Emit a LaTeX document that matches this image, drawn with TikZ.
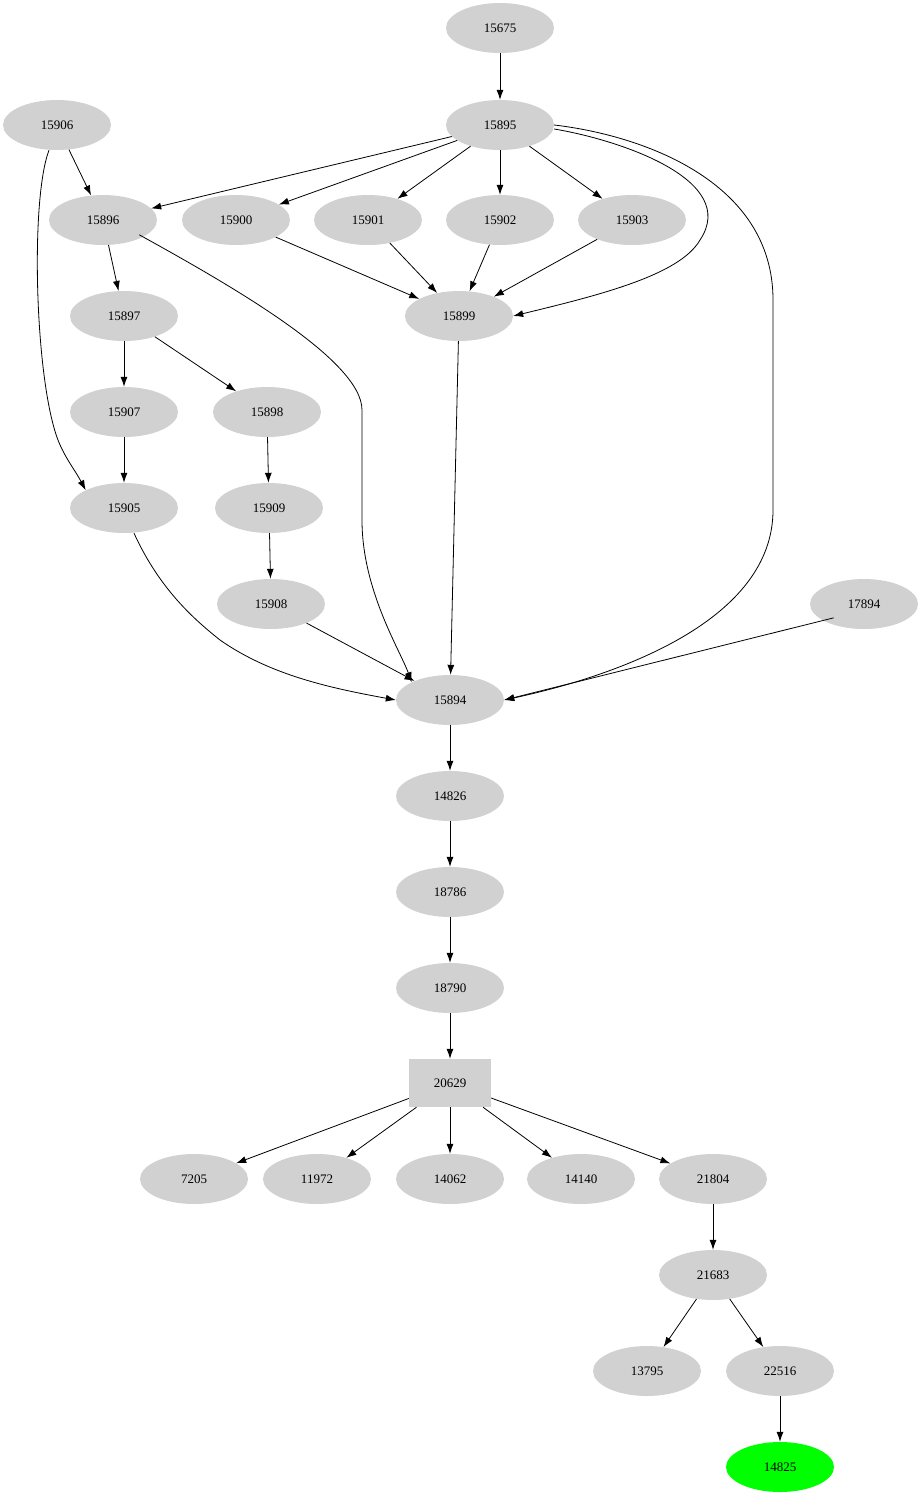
\documentclass[tikz,border=0pt]{standalone}
\usepackage{fontspec}
\setmainfont{Liberation Serif}
\usetikzlibrary{arrows.meta,shapes.geometric}
\begin{document}
\begin{tikzpicture}[x=1pt,y=-1pt,
  nd/.style={ellipse,fill=black!18,minimum width=108pt,minimum height=50pt,inner sep=0pt,font=\fontsize{13}{15}\selectfont},
  bx/.style={rectangle,fill=black!18,minimum width=82pt,minimum height=48pt,inner sep=0pt,font=\fontsize{13}{15}\selectfont},
  ar/.style={-{Latex[length=10pt,width=7pt]},line width=0.8pt}]
\useasboundingbox (0,0) rectangle (923,1499);
\node[nd] (n15675) at (500,28) {15675};
\node[nd] (n15895) at (500,125) {15895};
\node[nd] (n15906) at (57,125) {15906};
\node[nd] (n15896) at (103,220) {15896};
\node[nd] (n15900) at (236,220) {15900};
\node[nd] (n15901) at (368,220) {15901};
\node[nd] (n15902) at (500,220) {15902};
\node[nd] (n15903) at (632,220) {15903};
\node[nd] (n15899) at (459,316) {15899};
\node[nd] (n15897) at (124,316) {15897};
\node[nd] (n15907) at (124,412) {15907};
\node[nd] (n15898) at (267,412) {15898};
\node[nd] (n15905) at (124,508) {15905};
\node[nd] (n15909) at (269,508) {15909};
\node[nd] (n15908) at (271,604) {15908};
\node[nd] (n17894) at (864,604) {17894};
\node[nd] (n15894) at (450,700) {15894};
\node[nd] (n14826) at (450,796) {14826};
\node[nd] (n18786) at (450,892) {18786};
\node[nd] (n18790) at (450,988) {18790};
\node[bx] (n20629) at (450,1083) {20629};
\node[nd] (n7205) at (194,1179) {7205};
\node[nd] (n11972) at (317,1179) {11972};
\node[nd] (n14062) at (450,1179) {14062};
\node[nd] (n14140) at (581,1179) {14140};
\node[nd] (n21804) at (713,1179) {21804};
\node[nd] (n21683) at (713,1275) {21683};
\node[nd] (n13795) at (647,1371) {13795};
\node[nd] (n22516) at (780,1371) {22516};
\node[nd,fill={rgb,255:red,0;green,255;blue,0}] (n14825) at (780,1467) {14825};
\draw[ar] (n15675) -- (n15895);
\draw[ar] (n15895) -- (n15896);
\draw[ar] (n15895) -- (n15900);
\draw[ar] (n15895) -- (n15901);
\draw[ar] (n15895) -- (n15902);
\draw[ar] (n15895) -- (n15903);
\draw[ar] (n15906) -- (n15896);
\draw[ar] (n15900) -- (n15899);
\draw[ar] (n15901) -- (n15899);
\draw[ar] (n15902) -- (n15899);
\draw[ar] (n15903) -- (n15899);
\draw[ar] (n15896) -- (n15897);
\draw[ar] (n15897) -- (n15907);
\draw[ar] (n15897) -- (n15898);
\draw[ar] (n15907) -- (n15905);
\draw[ar] (n15898) -- (n15909);
\draw[ar] (n15909) -- (n15908);
\draw[ar] (n15908) -- (n15894);
\draw[ar] (n15899) -- (n15894);
\draw[ar] (n17894.south west) ++(8,-4) coordinate (c1) (c1) -- (n15894.east);
\draw[ar] (n15894) -- (n14826);
\draw[ar] (n14826) -- (n18786);
\draw[ar] (n18786) -- (n18790);
\draw[ar] (n18790) -- (n20629);
\draw[ar] (n20629) -- (n7205);
\draw[ar] (n20629) -- (n11972);
\draw[ar] (n20629) -- (n14062);
\draw[ar] (n20629) -- (n14140);
\draw[ar] (n20629) -- (n21804);
\draw[ar] (n21804) -- (n21683);
\draw[ar] (n21683) -- (n13795);
\draw[ar] (n21683) -- (n22516);
\draw[ar] (n22516) -- (n14825);
% curved edges
\draw[ar] (n15906.south) ++(-8,0) coordinate (c2) (c2) .. controls (30,200) and (35,380) .. (58,440) .. controls (65,458) and (75,470) .. (n15905.north west);
\draw[ar] (n15896.south east) ++(-2,-3) coordinate (c3) (c3) .. controls (230,285) and (362,360) .. (362,410) -- (362,520) .. controls (362,590) and (400,650) .. (n15894.north west);
\draw[ar] (n15895.east) ++(0,4) coordinate (c4) (c4) .. controls (620,140) and (740,180) .. (700,240) .. controls (680,275) and (600,295) .. (n15899.east);
\draw[ar] (n15895.east) coordinate (c5) (c5) .. controls (640,135) and (773,180) .. (773,300) -- (773,510) .. controls (773,620) and (620,675) .. (n15894.east);
\draw[ar] (n15905.south) ++(10,0) coordinate (c6) (c6) .. controls (160,590) and (195,620) .. (220,640) .. controls (270,675) and (330,688) .. (n15894.west);
\end{tikzpicture}
\end{document}
